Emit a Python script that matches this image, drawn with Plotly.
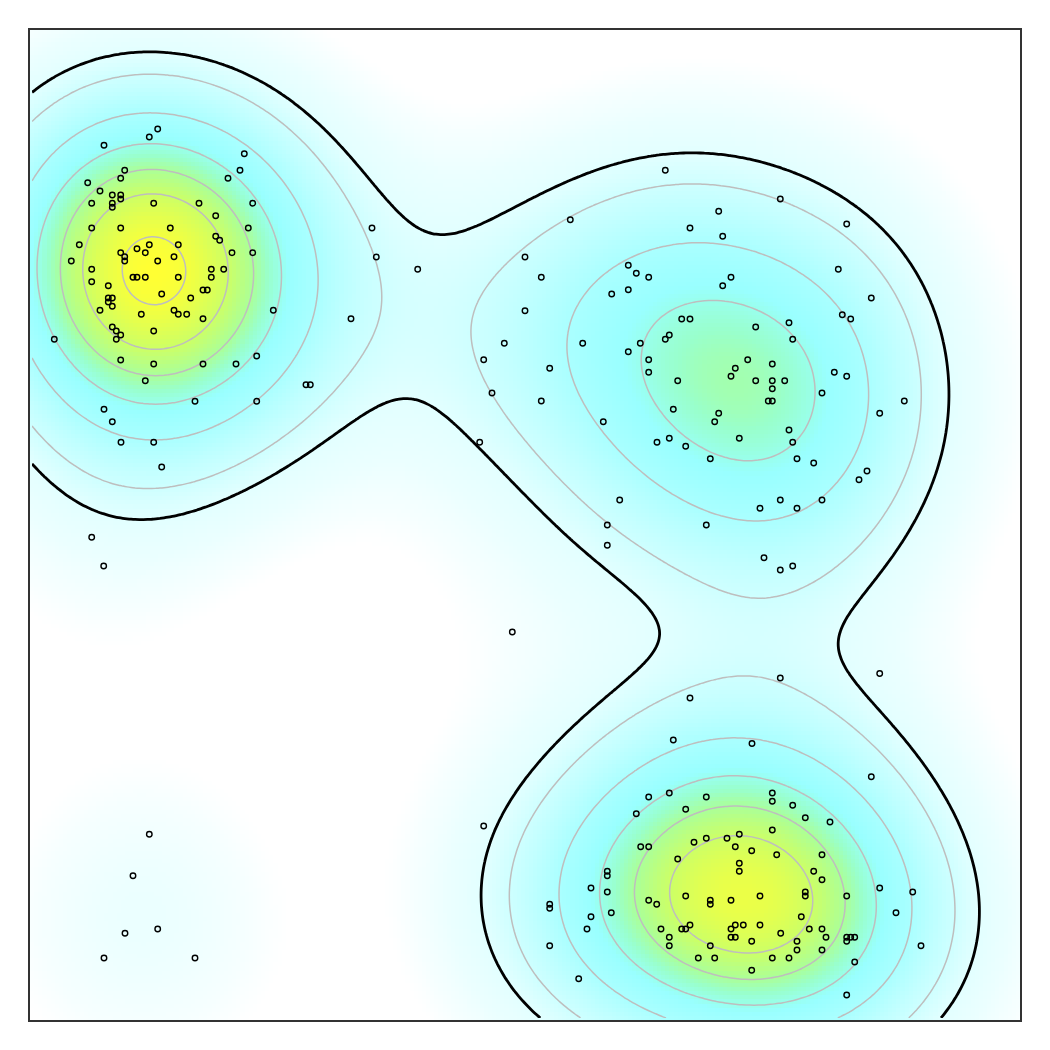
import numpy as np
import plotly.graph_objects as go

# point positions (axes run 30..1020, y downward)
x_top_left = [157.7, 149.3, 104, 244.3, 240, 124.7, 120.7, 87.7, 228, 100, 112.3, 120.7, 120.7, 112.3, 112.3, 91.7, 153.7, 199, 252.7, 215.7, 91.7, 120.7, 170.3, 248.3, 215.7, 219.7, 79.3, 149.3, 178.3, 137, 120.7, 145.3, 232, 252.7, 124.7, 174, 124.7, 71.3, 157.7, 91.7, 211.3, 223.7, 133, 137, 145.3, 178.3, 211.3, 91.7, 108.3, 203, 207.3, 161.7, 108.3, 112.3, 190.7, 108.3, 112.3, 100, 174, 273.3, 141.3, 178.3, 186.7, 203, 351, 112.3, 116.3, 153.7, 120.7, 116.3, 54.3, 120.7, 153.7, 203, 236, 256.7, 145.3, 306, 310.3, 195, 256.7, 104, 112.3, 121, 153.7, 161.7, 91.7, 103.7, 372, 376.3, 417.7]
y_top_left = [129, 137, 145.3, 153.7, 170.3, 170.3, 178.3, 182.7, 178.3, 191, 195, 195, 199, 203.3, 207.3, 203.3, 203.3, 203.3, 203.3, 215.7, 228, 228, 228, 228, 236.3, 240.3, 244.7, 244.7, 244.7, 248.7, 252.7, 252.7, 252.7, 252.7, 256.7, 256.7, 261, 261, 261, 269.3, 269.3, 269.3, 277.3, 277.3, 277.3, 277.3, 277.3, 281.7, 285.7, 290, 290, 294, 298, 298, 298, 302, 306.3, 310.3, 310.3, 310.3, 314.3, 314.3, 314.3, 318.7, 318.7, 327, 331, 331, 335, 339.3, 339.3, 360, 364, 364, 364, 356, 380.7, 384.7, 384.7, 401.3, 401.3, 409.3, 421.7, 442.3, 442.3, 467, 537.3, 566, 228, 257, 269.3]

x_top_right = [665.3, 780.3, 718.7, 846.7, 570.3, 690, 722.7, 525, 838.3, 628.3, 636.3, 648.7, 541.3, 731, 722.7, 628.3, 611.7, 871.3, 525, 842.3, 850.7, 681.7, 690, 789, 755.7, 669.3, 665.3, 792.7, 504.3, 582.7, 640.3, 628.3, 483.7, 648.7, 747.7, 772.3, 735.3, 549.7, 648.7, 834.3, 731, 846.7, 677.7, 755.7, 772.3, 784.7, 772.3, 492, 822, 541.3, 768.3, 772.3, 904.3, 673.3, 718.7, 879.7, 714.7, 603.3, 789, 669.3, 739.3, 657, 792.7, 479.7, 685.7, 710.3, 797, 813.7, 867, 859, 619.7, 780.3, 822, 760, 797, 607.3, 706.3, 607.3, 764, 792.7, 780.3]
y_top_right = [170.3, 199, 211.3, 224, 219.7, 228, 236.3, 257, 269.3, 265.3, 273.3, 277.3, 277.3, 277.3, 285.7, 289.7, 294, 298, 310.7, 314.7, 319, 319, 319, 322.7, 327, 335, 339.3, 339.3, 343.3, 343.3, 343.3, 351.7, 359.7, 359.7, 359.7, 364, 368.3, 368.3, 372.3, 372.3, 376.3, 376.3, 380.7, 380.7, 380.7, 380.7, 388.7, 393, 393, 401, 401, 401, 401, 409.3, 413.3, 413.3, 421.7, 421.7, 430, 438.3, 438.3, 442.3, 442.3, 442.3, 446.3, 458.7, 458.7, 463, 471, 479.7, 500, 500, 500, 508.3, 508.3, 525, 525, 545.3, 557.7, 566, 570]

x_bottom_right = [871.3, 669.3, 772.3, 648.7, 706.3, 772.3, 792.7, 685.7, 636.3, 805.3, 830, 772.3, 739.3, 706.3, 727, 694, 640.7, 648.7, 735.3, 751.7, 776.7, 822, 677.7, 739.3, 739.3, 813.7, 607.3, 607.3, 822, 591, 879.7, 607.3, 805.3, 912.7, 685.7, 760, 805.3, 846.7, 648.7, 710.3, 731, 549.7, 656.7, 710.3, 549.7, 611.3, 896, 591, 801.3, 690, 735.3, 743.3, 760, 587, 661, 681.7, 685.7, 731, 809.3, 822, 780.7, 669.3, 731, 735.3, 826, 846.7, 850.7, 854.7, 751.7, 797, 846.7, 549.7, 669.3, 710.3, 921, 797, 822, 698.3, 714.7, 772.3, 789, 854.7, 751.7, 578.7, 846.7, 512.3, 780.3, 690, 879.7, 673.3, 752, 483.7]
y_bottom_right = [776.7, 793, 793, 797, 797, 801.3, 805.3, 809.3, 813.7, 817.7, 822, 830, 834.3, 838.3, 838.3, 842.3, 846.7, 846.7, 846.7, 850.7, 854.7, 854.7, 859, 863.3, 871.3, 871.3, 871.3, 875.7, 879.7, 888, 888, 892, 892, 892, 896, 896, 896, 896, 900.3, 900.3, 900.3, 904.3, 904.3, 904.3, 908.3, 912.7, 912.7, 916.7, 916.7, 925, 925, 925, 925, 929, 929, 929, 929, 929, 929, 929, 933.3, 937.3, 937.3, 937.3, 937.3, 937.3, 937.3, 937.3, 941.3, 941.3, 941.3, 945.7, 945.7, 945.7, 945.7, 950, 950, 958, 958, 958, 958, 962, 970.3, 978.7, 995, 632, 678, 698, 673.5, 740, 743.5, 826]

x_bottom_left = [149.3, 133, 125, 157.7, 104, 195]
y_bottom_left = [834.3, 875.7, 933.3, 929, 958, 958]

point_x = np.array(x_top_left + x_top_right + x_bottom_right + x_bottom_left)
point_y = np.array(y_top_left + y_top_right + y_bottom_right + y_bottom_left)

black_level = 0.151
grey_levels = [0.220, 0.380, 0.537, 0.675, 0.799, 0.958]

# density surface from the points
bandwidth = 90
grid = 30 + (np.arange(240) + 0.5) * 990 / 240
gx, gy = np.meshgrid(grid, grid)
density = np.zeros_like(gx)
for px, py in zip(point_x, point_y):
    density += np.exp(-((gx - px) ** 2 + (gy - py) ** 2) / (2 * bandwidth ** 2))
density = density / density.max()

colors = [[0, '#ffffff'], [0.03, '#ffffff'], [0.05, '#f6ffff'], [0.09, '#ebffff'], [0.15, '#e2ffff'],
          [0.22, '#ceffff'], [0.38, '#aaffff'], [0.5, '#99ffff'], [0.6, '#99ffcc'], [0.675, '#aaff99'],
          [0.8, '#ccff66'], [1, '#ffff33']]

fig = go.Figure()

fig.add_trace(go.Heatmap(x=grid, y=grid, z=density, zmin=0, zmax=1, showscale=False, hoverinfo='skip',
                         colorscale=colors))

for level in grey_levels:
    fig.add_trace(go.Contour(x=grid, y=grid, z=density, showscale=False, hoverinfo='skip',
                             contours=dict(coloring='none', start=level, end=level, size=1),
                             line=dict(color='#bebebe', width=1.5, smoothing=1)))

fig.add_trace(go.Contour(x=grid, y=grid, z=density, showscale=False, hoverinfo='skip',
                         contours=dict(coloring='none', start=black_level, end=black_level, size=1),
                         line=dict(color='black', width=2.8, smoothing=1)))

fig.add_trace(go.Scatter(x=point_x, y=point_y, mode='markers', hoverinfo='skip',
                         marker=dict(symbol='circle-open', size=5.5, color='black', line=dict(color='black', width=1.4))))

fig.update_xaxes(range=[30, 1020], showticklabels=False, ticks='', showgrid=False, zeroline=False,
                 showline=True, mirror=True, linecolor='#333333', linewidth=1.5)
fig.update_yaxes(range=[1020, 30], showticklabels=False, ticks='', showgrid=False, zeroline=False,
                 showline=True, mirror=True, linecolor='#333333', linewidth=1.5)
fig.update_layout(width=1050, height=1050, margin=dict(l=22, r=38, t=22, b=38), showlegend=False,
                  paper_bgcolor='white', plot_bgcolor='white')

fig.write_html("out.html")
